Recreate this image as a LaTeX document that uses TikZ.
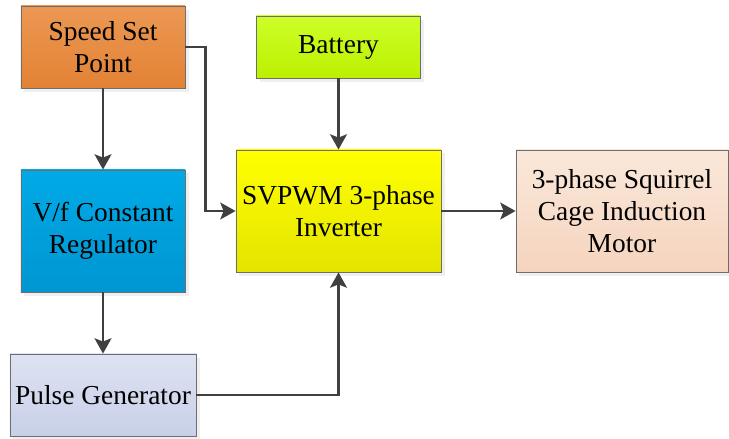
\documentclass[tikz,border=0pt]{standalone}
\usepackage{fontspec}
\setmainfont{Liberation Serif}
\usetikzlibrary{arrows.meta,positioning,shadows}
\definecolor{edgegray}{RGB}{110,110,110}
\definecolor{linegray}{RGB}{64,64,64}
\definecolor{speedtop}{RGB}{236,152,84}
\definecolor{speedbot}{RGB}{226,130,52}
\definecolor{batttop}{RGB}{205,255,40}
\definecolor{battbot}{RGB}{188,240,0}
\definecolor{vftop}{RGB}{0,170,230}
\definecolor{vfbot}{RGB}{0,150,210}
\definecolor{pulsetop}{RGB}{222,226,242}
\definecolor{pulsebot}{RGB}{200,208,232}
\definecolor{invtop}{RGB}{255,255,0}
\definecolor{invbot}{RGB}{228,228,0}
\definecolor{motortop}{RGB}{250,232,218}
\definecolor{motorbot}{RGB}{245,212,190}
\tikzset{
  blk/.style   ={rectangle, draw=edgegray, line width=0.6pt, align=center, inner sep=2pt,
                 font=\rmfamily\fontsize{19.5}{22.8}\selectfont,
                 drop shadow={shadow xshift=2.5pt, shadow yshift=-2.5pt, fill=black!12}},
  speedbox/.style={blk, top color=speedtop, bottom color=speedbot,
                 minimum width=4.1cm, minimum height=2.05cm},
  battbox/.style ={blk, top color=batttop, bottom color=battbot,
                 minimum width=4.1cm, minimum height=1.55cm},
  vfbox/.style   ={blk, top color=vftop, bottom color=vfbot,
                 minimum width=4.1cm, minimum height=3.05cm},
  pulsebox/.style={blk, top color=pulsetop, bottom color=pulsebot,
                 minimum width=4.65cm, minimum height=2.05cm},
  invbox/.style  ={blk, top color=invtop, bottom color=invbot,
                 minimum width=5.125cm, minimum height=3.05cm},
  motorbox/.style={blk, top color=motortop, bottom color=motorbot,
                 minimum width=5.3cm, minimum height=3.05cm},
  flow/.style  ={-{Stealth[length=0.38cm, width=0.42cm, inset=0.08cm]}, line width=1.8pt,
                 draw=linegray}
}
\begin{document}
\begin{tikzpicture}[x=0.025cm, y=-0.025cm]
\useasboundingbox (0,0) rectangle (729,439);
\node[speedbox] (speed) at (103,47) {Speed Set\\Point};
\node[battbox]  (batt)  at (338.5,47) {Battery};
\node[vfbox]    (vf)    at (103,231) {V/f Constant\\Regulator};
\node[pulsebox] (pulse) at (103,395) {Pulse Generator};
\node[invbox]   (inv)   at (338.5,211) {SVPWM 3-phase\\Inverter};
\node[motorbox] (motor) at (622,211) {3-phase Squirrel\\Cage Induction\\Motor};
\draw[flow] (speed) -- (vf);
\draw[flow] (speed.east) -- ++(20,0) |- (inv.west);
\draw[flow] (batt) -- (inv);
\draw[flow] (vf) -- (pulse);
\draw[flow] (pulse.east) -| (inv.south);
\draw[flow] (inv) -- (motor);
\end{tikzpicture}
\end{document}
